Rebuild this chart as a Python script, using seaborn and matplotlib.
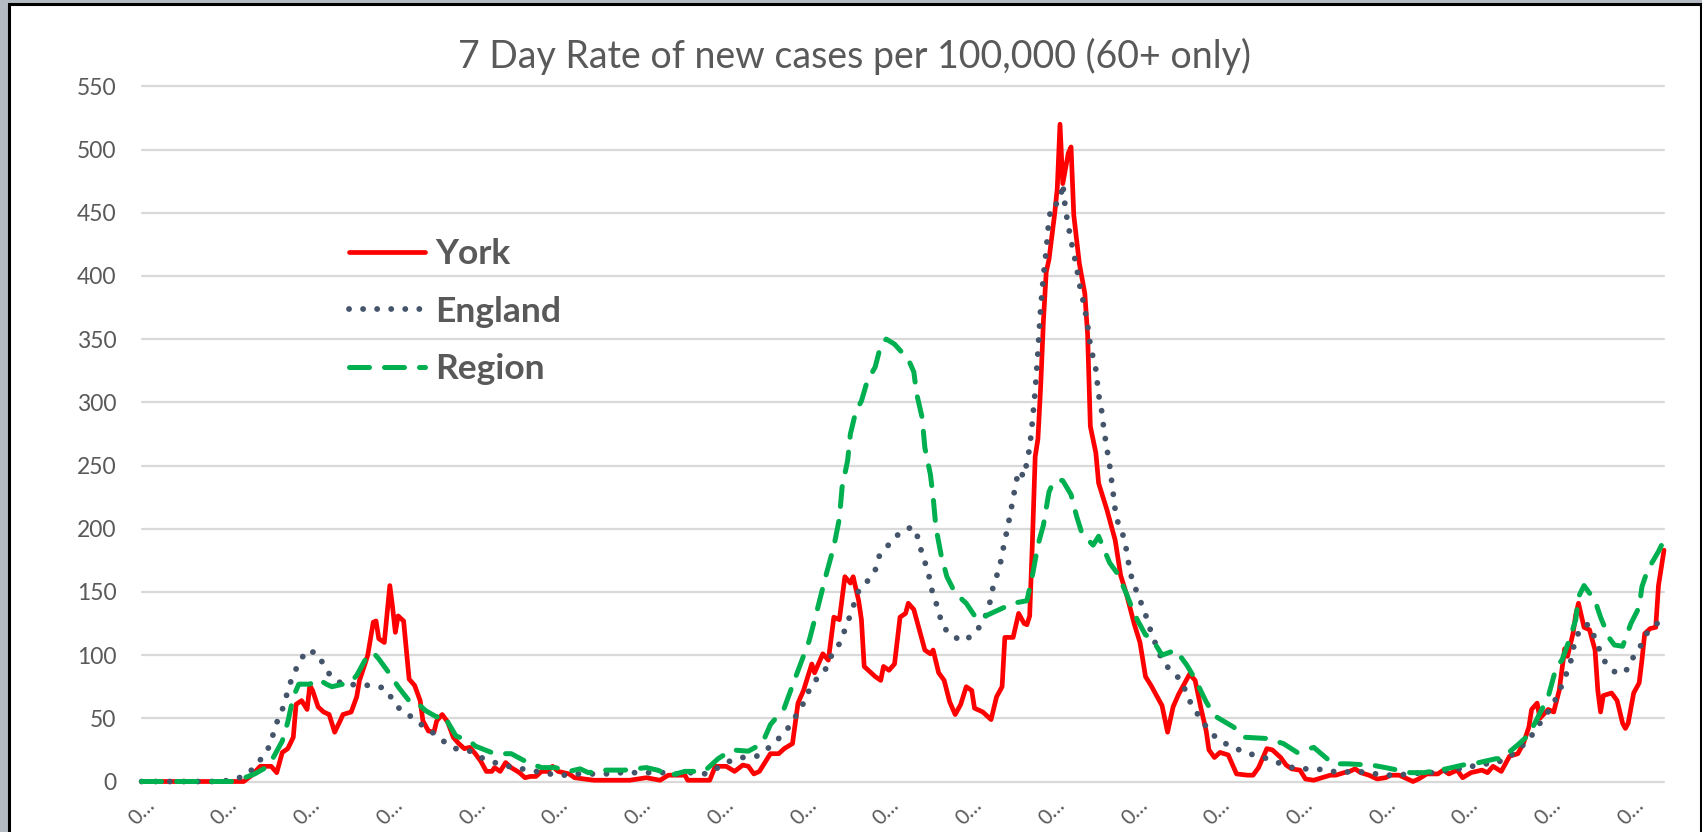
import pandas as pd
import seaborn as sns
import matplotlib.pyplot as plt
from matplotlib.patches import Rectangle

# day index (0 = first date on the axis) and 7-day rate per 100,000
york_day = [0, 37, 40, 43, 47, 49, 51, 53, 55, 56, 58, 60, 61, 62, 64, 66, 68, 70, 72, 73,
            76, 78, 79, 81, 82, 84, 85, 86, 88, 90, 91, 92, 93, 95, 96, 97, 99, 101, 102, 104,
            106, 107, 109, 111, 113, 115, 117, 119, 121, 123, 125, 127, 128, 130, 132, 134, 137, 139, 141, 143,
            145, 147, 149, 151, 153, 155, 157, 164, 177, 183, 188, 191, 197, 198, 206, 208, 212, 215, 218, 220,
            222, 224, 228, 231, 233, 236, 238, 240, 243, 244, 247, 249, 251, 253, 255, 257, 258, 260, 261, 262,
            264, 266, 268, 269, 271, 273, 275, 277, 278, 280, 282, 284, 286, 287, 289, 291, 293, 295, 297, 299,
            301, 302, 305, 308, 310, 312, 313, 316, 318, 320, 321, 322, 323, 324, 325, 326, 327, 328, 329, 331,
            332, 333, 334, 336, 337, 338, 340, 342, 343, 344, 346, 347, 350, 353, 355, 357, 360, 362, 364, 366,
            368, 370, 372, 374, 376, 378, 380, 382, 384, 386, 387, 389, 391, 394, 397, 401, 403, 405, 408, 410,
            413, 415, 417, 420, 422, 425, 428, 431, 433, 436, 438, 440, 442, 445, 448, 451, 453, 456, 458, 461,
            463, 466, 470, 472, 474, 477, 479, 482, 486, 488, 490, 493, 496, 499, 501, 503, 504, 506, 507, 510,
            512, 514, 516, 517, 519, 520, 521, 523, 525, 527, 528, 529, 530, 533, 535, 537, 538, 539, 541, 543,
            544, 545, 547, 549, 550, 552]
york_rate = [0, 0, 5, 12, 12, 7, 23, 26, 35, 61, 64, 57, 76, 72, 59, 55, 53, 39, 48, 53,
             55, 67, 80, 93, 100, 126, 127, 113, 110, 155, 138, 118, 131, 127, 104, 81, 76, 64, 48, 40,
             39, 48, 53, 47, 35, 30, 26, 27, 22, 16, 8, 8, 11, 8, 15, 11, 7, 3, 4, 4,
             8, 8, 12, 8, 7, 6, 3, 1, 1, 3, 1, 5, 5, 1, 1, 12, 12, 8, 13, 12,
             6, 8, 22, 22, 26, 30, 62, 72, 93, 86, 101, 96, 130, 128, 162, 157, 162, 143, 128, 91,
             87, 83, 80, 91, 88, 93, 130, 133, 141, 136, 120, 104, 101, 104, 86, 80, 63, 53, 61, 75,
             72, 58, 55, 49, 67, 75, 114, 114, 133, 125, 124, 131, 190, 257, 271, 313, 365, 403, 413, 448,
             469, 520, 473, 497, 502, 448, 410, 386, 354, 281, 260, 236, 215, 191, 163, 149, 124, 110, 83, 76,
             68, 60, 39, 59, 69, 77, 85, 80, 59, 40, 25, 19, 23, 21, 6, 5, 5, 11, 26, 25,
             19, 13, 10, 9, 2, 1, 3, 5, 5, 7, 8, 10, 7, 5, 2, 3, 5, 5, 3, 0,
             2, 6, 6, 9, 6, 9, 3, 7, 9, 7, 12, 8, 20, 22, 30, 43, 57, 62, 50, 57,
             55, 72, 105, 99, 117, 132, 141, 122, 120, 104, 72, 55, 68, 70, 64, 46, 42, 46, 70, 78,
             96, 117, 121, 122, 155, 183]

england_day = [0, 28, 32, 37, 41, 44, 47, 48, 50, 52, 53, 55, 57, 60, 64, 66, 69, 73, 83, 88,
               91, 94, 98, 102, 106, 110, 114, 119, 124, 128, 133, 138, 143, 148, 153, 158, 163, 168, 174, 179,
               184, 189, 194, 199, 205, 209, 214, 218, 223, 227, 231, 234, 237, 240, 242, 245, 248, 250, 253, 255,
               257, 260, 263, 266, 267, 270, 273, 277, 280, 282, 283, 285, 286, 287, 289, 290, 293, 298, 302, 305,
               307, 308, 309, 311, 312, 314, 315, 316, 317, 318, 320, 321, 322, 323, 324, 325, 326, 327, 328, 329,
               330, 331, 333, 334, 335, 336, 337, 339, 340, 341, 342, 343, 344, 346, 347, 348, 349, 351, 352, 353,
               354, 356, 357, 358, 359, 361, 363, 365, 366, 368, 370, 373, 377, 379, 381, 384, 387, 391, 395, 400,
               405, 410, 414, 419, 425, 430, 434, 440, 445, 450, 455, 460, 465, 470, 475, 480, 485, 490, 495, 499,
               503, 506, 509, 512, 514, 516, 518, 519, 520, 523, 525, 527, 529, 531, 535, 539, 541, 544, 546, 550,
               552]
england_rate = [0, 0, 1, 4, 11, 20, 30, 41, 52, 62, 73, 84, 94, 104, 101, 92, 82, 77, 76, 74,
                65, 56, 51, 44, 38, 31, 26, 24, 18, 15, 12, 10, 8, 6, 5, 6, 6, 6, 7, 7,
                7, 7, 6, 7, 6, 11, 17, 19, 20, 26, 34, 41, 51, 62, 72, 82, 89, 99, 109, 120,
                132, 151, 158, 167, 177, 185, 193, 200, 201, 190, 179, 168, 157, 147, 136, 125, 116, 111, 117, 126,
                136, 146, 157, 168, 180, 201, 212, 224, 236, 246, 241, 253, 264, 285, 309, 340, 375, 400, 420, 445,
                456, 456, 459, 473, 452, 440, 428, 407, 394, 384, 374, 361, 345, 326, 306, 295, 277, 250, 233, 215,
                205, 194, 184, 171, 161, 149, 138, 126, 118, 107, 96, 88, 80, 69, 59, 50, 40, 32, 28, 23,
                20, 17, 13, 10, 10, 9, 7, 8, 7, 5, 5, 6, 7, 7, 10, 10, 14, 14, 18, 25,
                33, 43, 52, 62, 71, 82, 93, 104, 114, 124, 124, 113, 102, 93, 85, 89, 99, 109, 118, 126,
                127]

region_day = [0, 33, 35, 41, 45, 47, 51, 53, 55, 57, 61, 64, 67, 69, 73, 76, 78, 81, 84, 86,
              90, 93, 98, 101, 103, 107, 109, 111, 114, 119, 121, 128, 134, 140, 145, 150, 155, 159, 162, 168,
              175, 183, 187, 192, 197, 204, 209, 214, 220, 225, 228, 233, 236, 242, 245, 248, 251, 253, 254, 256,
              257, 259, 261, 263, 266, 268, 270, 273, 278, 280, 281, 283, 284, 286, 287, 288, 290, 292, 295, 299,
              303, 307, 313, 316, 321, 323, 325, 327, 329, 330, 332, 334, 337, 339, 341, 345, 347, 351, 354, 357,
              359, 361, 364, 366, 370, 375, 379, 382, 386, 389, 396, 400, 408, 414, 419, 425, 432, 437, 446, 451,
              460, 465, 473, 479, 485, 491, 493, 499, 503, 507, 510, 513, 515, 518, 520, 521, 523, 527, 529, 532,
              534, 537, 540, 543, 544, 546, 550, 552]
region_rate = [0, 0, 1, 6, 11, 16, 32, 47, 67, 77, 77, 81, 77, 75, 77, 79, 84, 96, 102, 97,
               85, 75, 61, 60, 56, 51, 53, 47, 36, 32, 28, 22, 22, 15, 11, 11, 8, 10, 7, 9,
               9, 11, 9, 5, 8, 8, 18, 25, 24, 30, 45, 58, 76, 111, 136, 162, 186, 208, 233, 254,
               275, 293, 301, 316, 328, 345, 350, 346, 334, 324, 307, 288, 264, 243, 225, 201, 178, 162, 149, 141,
               128, 132, 138, 141, 143, 163, 187, 203, 229, 234, 239, 238, 227, 210, 196, 187, 194, 173, 164, 149,
               138, 128, 116, 114, 100, 104, 92, 81, 63, 52, 43, 35, 34, 30, 23, 27, 14, 14, 13, 11,
               7, 7, 10, 13, 15, 18, 18, 29, 37, 54, 67, 91, 96, 114, 128, 146, 155, 143, 130, 114,
               108, 107, 125, 138, 154, 167, 182, 191]

tick_days = list(range(0, 541, 30))
tick_labels = ["0\u2026"] * len(tick_days)
y_ticks = list(range(0, 551, 50))

title = "7 Day Rate of new cases per 100,000 (60+ only)"

york = pd.DataFrame({"day": york_day, "rate": york_rate})
england = pd.DataFrame({"day": england_day, "rate": england_rate})
region = pd.DataFrame({"day": region_day, "rate": region_rate})

sns.set_theme(style="white")
plt.rcParams["font.family"] = ["Lato", "DejaVu Sans"]

W, H = 1702, 832
grey_txt = "#595959"
fig = plt.figure(figsize=(W / 100, H / 100), dpi=100, facecolor="#b4bbc3")

# white chart area with a black frame, like the screenshot
frame = Rectangle((9 / W, -0.02), (1700.5 - 9) / W, (H - 4.3) / H + 0.02,
                  transform=fig.transFigure, facecolor="white", edgecolor="black",
                  lw=2.2, zorder=-1)
fig.add_artist(frame)

ax = fig.add_axes([141.6 / W, (H - 781.5) / H, (1664 - 141.6) / W, (781.5 - 86.3) / H])
ax.set_facecolor("none")

sns.lineplot(data=york, x="day", y="rate", ax=ax, color="#ff0000", lw=3.4,
             label="York", estimator=None, sort=False, solid_capstyle="round",
             solid_joinstyle="round")
sns.lineplot(data=england, x="day", y="rate", ax=ax, color="#44546a", lw=4.2,
             linestyle=(0, (0.01, 2.4)), dash_capstyle="round",
             label="England", estimator=None, sort=False)
sns.lineplot(data=region, x="day", y="rate", ax=ax, color="#00b050", lw=3.6,
             linestyle=(0, (4, 3.0)), dash_capstyle="round",
             label="Region", estimator=None, sort=False)

ax.set_xlim(0, 552)
ax.set_ylim(0, 550)
ax.set_yticks(y_ticks)
ax.set_xticks(tick_days, tick_labels, rotation=45, ha="center")
ax.set_xlabel("")
ax.set_ylabel("")
ax.yaxis.grid(True, color="#d9d9d9", lw=1.6, zorder=0)
ax.xaxis.grid(False)
ax.set_axisbelow(True)
for s in ax.spines.values():
    s.set_visible(False)
for gl in ax.get_ygridlines():
    gl.set_clip_on(False)
for ln in ax.get_lines():
    ln.set_clip_on(False)

ax.tick_params(axis="y", length=0, pad=18, labelsize=16.5, labelcolor=grey_txt)
ax.tick_params(axis="x", length=0, pad=10, labelsize=15, labelcolor=grey_txt)

fig.text(854 / W, 1 - 56.5 / H, title, ha="center", va="center",
         fontsize=27, color=grey_txt)

ax.legend(loc="upper left", bbox_to_anchor=(349 / W, 1 - 238 / H),
          bbox_transform=fig.transFigure, frameon=False, borderpad=0,
          borderaxespad=0, handlelength=2.15, handletextpad=0.28, labelspacing=0.72,
          prop={"weight": "bold", "size": 25.5}, labelcolor=grey_txt)

fig.savefig("out.png", dpi=100, facecolor=fig.get_facecolor())
